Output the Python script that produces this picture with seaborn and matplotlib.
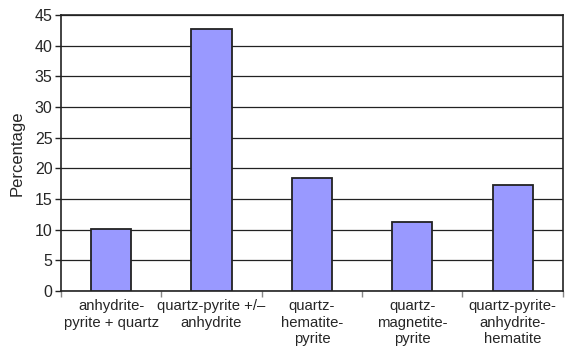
import matplotlib
matplotlib.use("Agg")
import matplotlib.pyplot as plt
import seaborn as sns
import pandas as pd
import numpy as np

categories = ["anhydrite-\npyrite + quartz", "quartz-pyrite +/\u2013\nanhydrite",
              "quartz-\nhematite-\npyrite", "quartz-\nmagnetite-\npyrite",
              "quartz-pyrite-\nanhydrite-\nhematite"]
values = [10.1, 42.7, 18.4, 11.2, 17.3]
yticks = [0, 5, 10, 15, 20, 25, 30, 35, 40, 45]

sns.set_style("white")
plt.rcParams['font.family'] = ['Liberation Sans', 'DejaVu Sans']

df = pd.DataFrame({"cat": categories, "val": values})
fig = plt.figure(figsize=(5.72, 3.59), dpi=100)
ax = fig.add_axes([0.1066, 0.1894, 0.8774, 0.7686])
sns.barplot(data=df, x="cat", y="val", ax=ax, color="#9999ff", saturation=1,
            width=0.4, edgecolor="#222222", linewidth=1.3, zorder=3)
ax.set_ylim(0, 45)
ax.set_xlim(-0.5, 4.5)
ax.set_yticks(yticks)
ax.yaxis.grid(True, color="#222222", linewidth=0.9)
ax.set_axisbelow(True)
for s in ax.spines.values():
    s.set_color("#222222")
    s.set_linewidth(1.2)
ax.tick_params(axis="y", direction="out", length=4, width=1, color="#222222",
               labelsize=11.5, left=True, pad=2)
ax.tick_params(axis="x", which="major", length=0, labelsize=10.7, pad=6)
ax.set_xticks(np.arange(-0.5, 5.0, 1.0), minor=True)
ax.tick_params(axis="x", which="minor", direction="out", length=4, width=1,
               color="#888888", bottom=True)
ax.set_xlabel("")
ax.set_ylabel("Percentage", fontsize=12, labelpad=7)
fig.savefig("out.png", dpi=100)
